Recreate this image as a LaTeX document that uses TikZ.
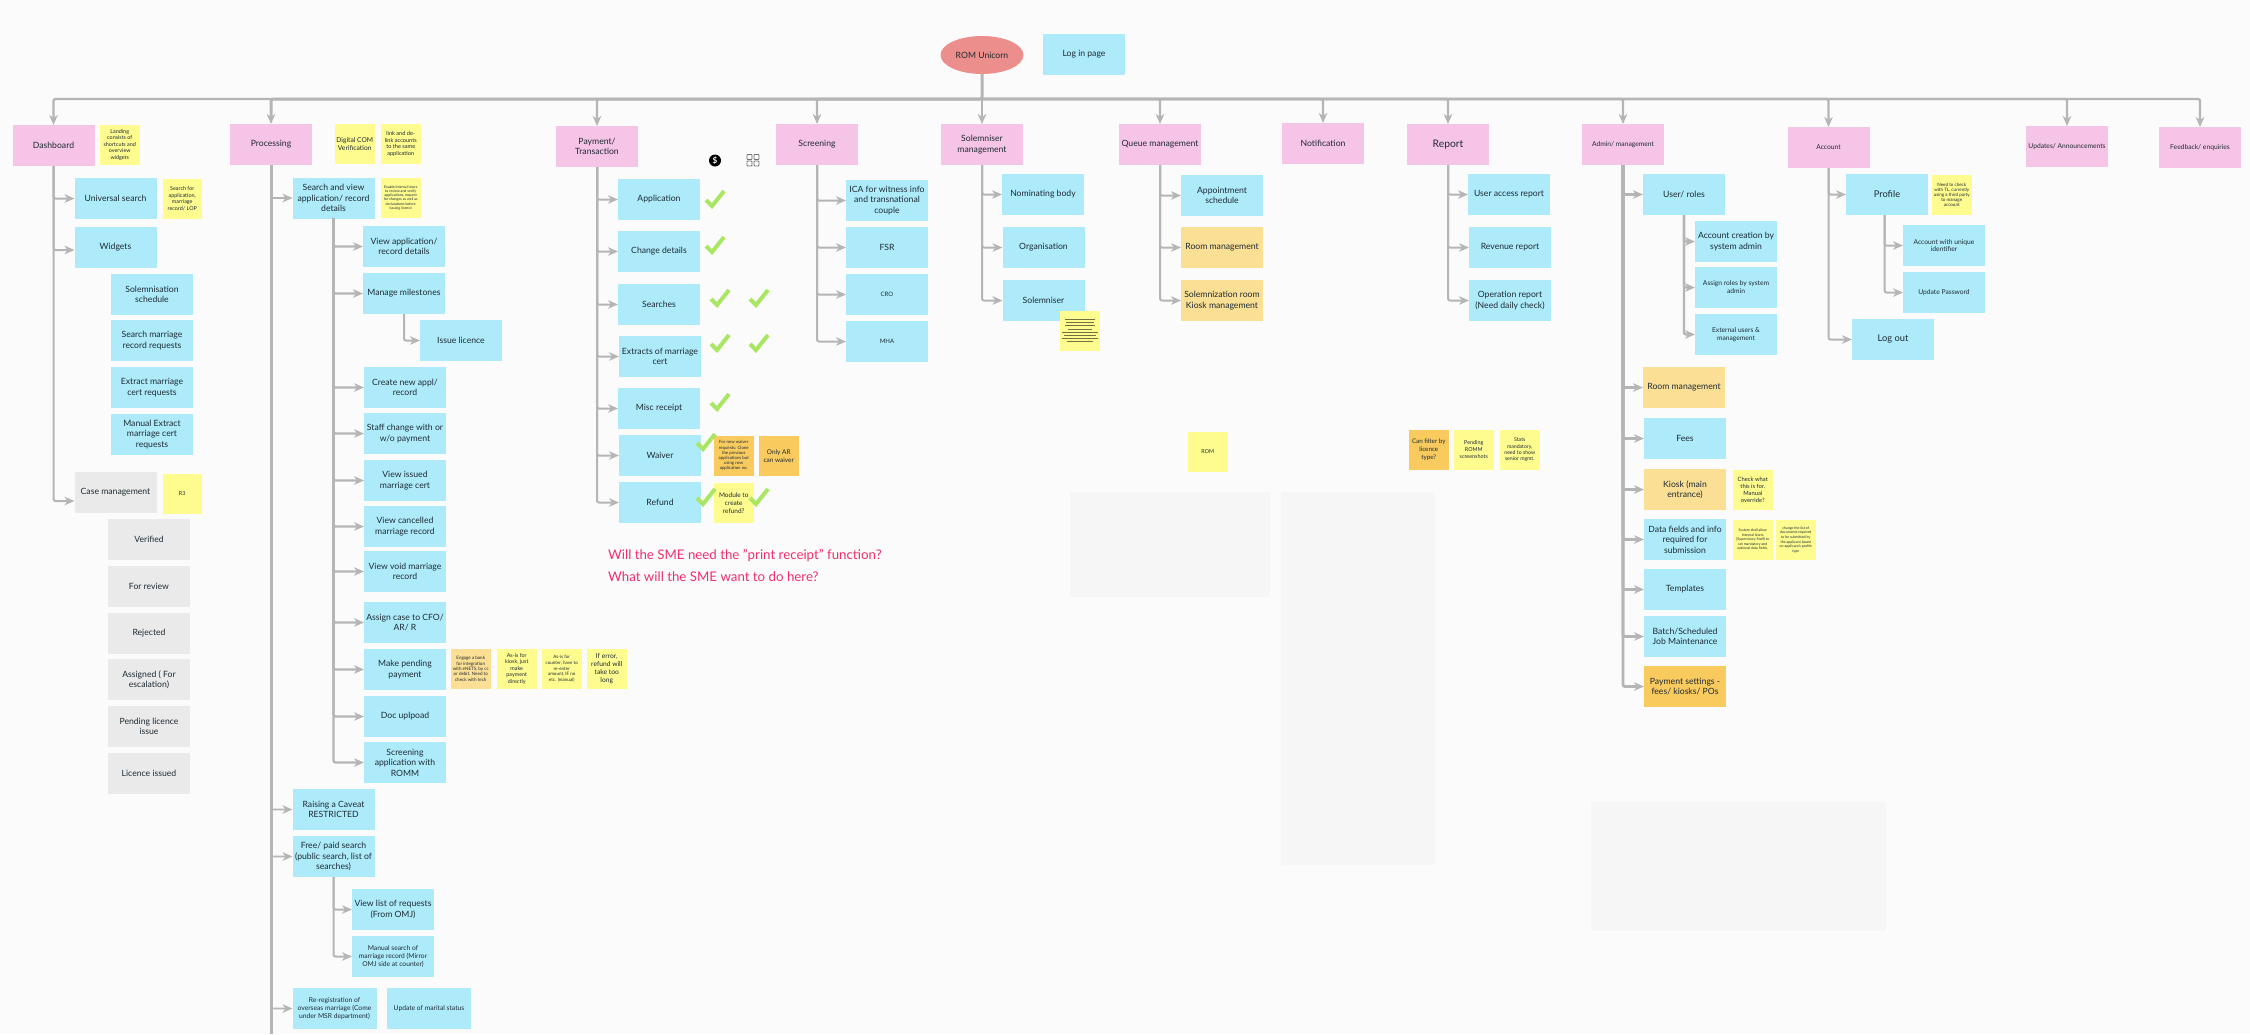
\documentclass[tikz,border=0pt]{standalone}
\usepackage{fontspec}
\setmainfont{Lato}
\usetikzlibrary{arrows.meta,shapes.geometric}
\definecolor{pagebg}{HTML}{FBFBFB}
\definecolor{pinkc}{HTML}{F6C4E6}
\definecolor{bluec}{HTML}{ADEBFB}
\definecolor{grayc}{HTML}{EAEAEA}
\definecolor{yellowc}{HTML}{FFFC8F}
\definecolor{lorangec}{HTML}{FBDF95}
\definecolor{dorangec}{HTML}{F9CB5E}
\definecolor{rootc}{HTML}{EC8E8C}
\definecolor{linec}{HTML}{B5B5B5}
\definecolor{tickc}{HTML}{A9E662}
\definecolor{redc}{HTML}{EF2F6C}
\definecolor{inkc}{HTML}{1E2B33}
\definecolor{panelc}{HTML}{F6F6F6}
\newcommand{\fs}[2]{\fontsize{\fpeval{#1*1.08}}{#2}\selectfont}
\newcommand{\bx}[6][]{\node[#2,anchor=north west,#1] (#3) at (#4,#5) {#6};}
\newcommand{\tk}[2]{\draw[tickmark] (#1-9,#2+1) -- (#1-3,#2+7) -- (#1+9,#2-8);}
\newcommand{\kid}[3][]{\draw[conn,#1] (#2.south) |- (#3.west);}
\tikzset{
  base/.style={rectangle,inner sep=0pt,outer sep=0pt,align=center,text=inkc,font=\fs{8}{10.4}},
  pinkbox/.style={base,fill=pinkc,minimum width=82pt,minimum height=41pt},
  bluebox/.style={base,fill=bluec,minimum width=82pt,minimum height=41pt},
  graybox/.style={base,fill=grayc,minimum width=82pt,minimum height=41pt},
  lorangebox/.style={base,fill=lorangec,minimum width=82pt,minimum height=41pt},
  dorangebox/.style={base,fill=dorangec,minimum width=82pt,minimum height=41pt},
  note/.style={base,fill=yellowc,minimum width=39.5pt,minimum height=39.5pt,font=\fs{5}{6.5}},
  conn/.style={draw=linec,line width=2pt,rounded corners=2pt,-{Stealth[length=10pt,width=8.5pt,inset=3pt]}},
  heavy/.style={line width=3pt},
  tickmark/.style={draw=tickc,line width=4pt},
  redtext/.style={text=redc,font=\fs{12.3}{16},anchor=west,inner sep=0pt},
  panel/.style={fill=panelc,draw=none},
  notelines/.style={draw=black!55!yellowc,line width=1pt}
}
\begin{document}
\begin{tikzpicture}[x=1pt,y=-1pt]
\useasboundingbox (0,0) rectangle (2250,1034);
\fill[pagebg] (0,0) rectangle (2250,1034);
% faint panels
\fill[panel] (1070,492) rectangle (1270,597);
\fill[panel] (1281,492) rectangle (1435,865);
\fill[panel] (1591,802) rectangle (1886,931);
% root
\node[base,ellipse,fill=rootc,minimum width=83pt,minimum height=38pt] (root) at (982,55) {ROM Unicorn};
\bx{bluebox}{login}{1043}{34}{Log in page}
\coordinate (trunk) at (982,99);
\coordinate (pbot) at (271,1034);
% top-level
\bx{pinkbox}{dash}{12.5}{125}{Dashboard}
\bx{pinkbox}{proc}{230}{124}{Processing}
\bx{pinkbox}{pay}{556}{126}{Payment/\\Transaction}
\bx{pinkbox}{scr}{776}{124}{Screening}
\bx{pinkbox}{solm}{941}{124}{Solemniser\\management}
\bx{pinkbox}{queue}{1119}{124}{Queue management}
\bx{pinkbox}{notif}{1282}{123}{Notification}
\bx[font=\fs{9.6}{12}]{pinkbox}{report}{1407}{124}{Report}
\bx[font=\fs{6.2}{8}]{pinkbox}{admin}{1582}{124}{Admin/ management}
\bx[font=\fs{6.2}{8}]{pinkbox}{acct}{1787.5}{127}{Account}
\bx[font=\fs{6.2}{8}]{pinkbox}{upd}{2026}{126}{Updates/ Announcements}
\bx[font=\fs{6.2}{8}]{pinkbox}{feed}{2159}{127}{Feedback/ enquiries}
% dashboard
\bx{note}{nland}{100}{125}{Landing\\consists of\\shortcuts and\\overview\\widgets}
\bx{bluebox}{usearch}{74.5}{178}{Universal search}
\bx{note}{nsearch}{162.5}{179}{Search for\\application,\\marriage\\record/ LOP}
\bx{bluebox}{widgets}{74.5}{227}{Widgets}
\bx{bluebox}{wsol}{111}{274}{Solemnisation\\schedule}
\bx{bluebox}{wsea}{111}{320}{Search marriage\\record requests}
\bx{bluebox}{wext}{111}{367}{Extract marriage\\cert requests}
\bx{bluebox}{wman}{111}{414}{Manual Extract\\marriage cert\\requests}
\bx{graybox}{casem}{74.5}{472}{Case management}
\bx{note}{nrthree}{162.5}{474}{R3}
\bx{graybox}{cver}{108}{519}{Verified}
\bx{graybox}{crev}{108}{566}{For review}
\bx{graybox}{crej}{108}{613}{Rejected}
\bx{graybox}{cass}{108}{659}{Assigned ( For\\escalation)}
\bx{graybox}{cpen}{108}{706}{Pending licence\\issue}
\bx{graybox}{clic}{108}{753}{Licence issued}
% processing
\bx[font=\fs{6.2}{7.8}]{note}{ndig}{335}{124}{Digital COM\\Verification}
\bx[font=\fs{5.2}{6.6}]{note}{nlink}{381}{124}{link and de-\\link accounts\\to the same\\application}
\bx{bluebox}{sview}{292.5}{177.5}{Search and view\\application/ record\\details}
\bx[font=\fs{3.3}{4.2}]{note}{nenable}{381}{178}{Enable Internal Users\\to review and verify\\applications, request\\for changes as well as\\declarations before\\issuing licence}
\bx{bluebox}{vapp}{363}{226}{View application/\\record details}
\bx{bluebox}{mile}{363}{273}{Manage milestones}
\bx{bluebox}{issue}{420}{320}{Issue licence}
\bx{bluebox}{cnew}{364}{367}{Create new appl/\\record}
\bx{bluebox}{staff}{364}{413}{Staff change with or\\w/o payment}
\bx{bluebox}{vissued}{364}{460}{View issued\\marriage cert}
\bx{bluebox}{vcanc}{364}{506}{View cancelled\\marriage record}
\bx{bluebox}{vvoid}{364}{551}{View void marriage\\record}
\bx{bluebox}{assign}{364}{602}{Assign case to CFO/\\AR/ R}
\bx{bluebox}{mpay}{364}{649}{Make pending\\payment}
\bx{bluebox}{doc}{364}{696}{Doc uplpoad}
\bx{bluebox}{srom}{364}{742}{Screening\\application with\\ROMM}
\bx[fill=lorangec,font=\fs{4.2}{5.4}]{note}{neng}{451}{649}{Engage a bank\\for integration\\with eNETS, by cc\\or debit. Need to\\check with tech}
\bx[font=\fs{5}{6.6}]{note}{nkiosk}{497}{649}{As-is for\\kiosk, just\\make\\payment\\directly}
\bx[font=\fs{4.2}{5.6}]{note}{ncount}{542}{649}{As-is for\\counter, have to\\re-enter\\amount, IF no\\etc. (manual)}
\bx[font=\fs{6.2}{8}]{note}{nerr}{587}{649}{If error,\\refund will\\take too\\long}
\bx{bluebox}{cave}{292.5}{789}{Raising a Caveat\\RESTRICTED}
\bx{bluebox}{free}{292.5}{836}{Free/ paid search\\(public search, list of\\searches)}
\bx{bluebox}{vlist}{352}{889}{View list of requests\\(From OMJ)}
\bx[font=\fs{6.2}{8.2}]{bluebox}{msearch}{352}{936}{Manual search of\\marriage record (Mirror\\OMJ side at counter)}
\bx[font=\fs{6.2}{8.2},minimum width=84pt]{bluebox}{rereg}{292.5}{988}{Re-registration of\\overseas marriage (Come\\under MSR department)}
\bx[font=\fs{6.2}{8.2},minimum width=84pt]{bluebox}{umar}{387}{988}{Update of marital status}
% payment
\bx{bluebox}{papp}{618}{179}{Application}
\bx{bluebox}{pchg}{618}{231}{Change details}
\bx{bluebox}{psea}{618}{284}{Searches}
\bx{bluebox}{pext}{619}{336}{Extracts of marriage\\cert}
\bx{bluebox}{pmisc}{618}{388}{Misc receipt}
\bx{bluebox}{pwai}{619}{435}{Waiver}
\bx{bluebox}{pref}{619}{482}{Refund}
\bx[fill=dorangec,font=\fs{4}{5.2}]{note}{nnew}{714}{436}{For new waiver\\requests: Clone\\the previous\\applications but\\using new\\application no.}
\bx[fill=dorangec,font=\fs{6}{8}]{note}{nar}{759}{436}{Only AR\\can waiver}
\bx[font=\fs{6}{8}]{note}{nmod}{714}{483}{Module to\\create\\refund?}
\tk{715}{199}
\tk{715}{245}
\tk{720}{298}
\tk{759}{298}
\tk{720}{343}
\tk{759}{343}
\tk{720}{402}
\tk{706}{442}
\tk{706}{497}
\tk{759}{497}
% icons
\node[circle,fill=black,text=white,minimum size=12pt,inner sep=0pt,font=\bfseries\fs{7.5}{8}] (dollar) at (715,160.5) {\$};
\foreach \gx/\gy in {747/154.5,754/154.5,747/161,754/161}
  {\draw[black!55,line width=0.9pt,rounded corners=0.8pt] (\gx,\gy) rectangle ++(5,5);}
\node[redtext] (qa) at (608,556) {Will the SME need the "print receipt" function?};
\node[redtext] (qb) at (608,577) {What will the SME want to do here?};
% screening
\bx{bluebox}{sica}{846}{180}{ICA for witness info\\and transnational\\couple}
\bx{bluebox}{sfsr}{846}{227}{FSR}
\bx[font=\fs{5.6}{7}]{bluebox}{scro}{846}{274}{CRO}
\bx[font=\fs{5.6}{7}]{bluebox}{smha}{846}{321}{MHA}
% solemniser
\bx{bluebox}{snom}{1002}{174}{Nominating body}
\bx{bluebox}{sorg}{1002.5}{227}{Organisation}
\bx{bluebox}{ssol}{1002.5}{280}{Solemniser}
\bx{note}{nlines}{1060}{311}{}
\foreach \ya/\xa/\xb in {319.3/1065.3/1095,322.7/1066/1094,325.7/1065/1095,329/1068.3/1091.7,332.3/1062.3/1097.7,335.3/1064/1096,338.7/1062.3/1097.7,341.7/1067.3/1092.7}
  {\draw[notelines] (\xa,\ya) -- (\xb,\ya);}
% queue
\bx{bluebox}{qapp}{1181}{175}{Appointment\\schedule}
\bx{lorangebox}{qroom}{1181}{227}{Room management}
\bx{lorangebox}{qkio}{1181}{280}{Solemnization room\\Kiosk management}
\bx{note}{nrom}{1188}{432}{ROM}
% report
\bx{bluebox}{ruser}{1468}{174}{User access report}
\bx{bluebox}{rrev}{1469}{227}{Revenue report}
\bx{bluebox}{rop}{1469}{280}{Operation report\\(Need daily check)}
\bx[fill=dorangec,font=\fs{5.8}{8}]{note}{nfilter}{1409}{430}{Can filter by\\licence\\type?}
\bx[font=\fs{5}{7}]{note}{nromm}{1454}{430}{Pending\\ROMM\\screenshots}
\bx[font=\fs{4.8}{6.2}]{note}{nstats}{1500}{430}{Stats\\mandatory,\\need to show\\senior mgmt.}
% admin
\bx{bluebox}{auser}{1643}{174}{User/ roles}
\bx{bluebox}{acre}{1695}{221}{Account creation by\\system admin}
\bx[font=\fs{6.2}{8}]{bluebox}{arol}{1695}{267}{Assign roles by system\\admin}
\bx[font=\fs{6.2}{8}]{bluebox}{aext}{1695}{314}{External users \&\\management}
\bx{lorangebox}{aroom}{1643}{367}{Room management}
\bx{bluebox}{afee}{1644}{418}{Fees}
\bx{lorangebox}{akio}{1644}{469}{Kiosk (main\\entrance)}
\bx[font=\fs{5.4}{7}]{note}{ncheck}{1733}{470}{Check what\\this is for.\\Manual\\override?}
\bx{bluebox}{adat}{1644}{519}{Data fields and info\\required for\\submission}
\bx[font=\fs{3.3}{4.6}]{note}{nsys}{1733}{520}{System shall allow\\Internal Users\\(Supervisory Staff) to\\set mandatory and\\optional data fields.}
\bx[font=\fs{3.3}{4.6}]{note}{nchg}{1776}{520}{change the list of\\documents required\\to be submitted by\\the applicant based\\on applicant's profile\\type}
\bx{bluebox}{atem}{1644}{569}{Templates}
\bx{bluebox}{abat}{1644}{616}{Batch/Scheduled\\Job Maintenance}
\bx{dorangebox}{apay}{1644}{666}{Payment settings -\\fees/ kiosks/ POs}
% account
\bx[font=\fs{8.6}{11}]{bluebox}{prof}{1846}{174}{Profile}
\bx[font=\fs{4.2}{5.2}]{note}{nneed}{1932}{175}{Need to check\\with TL, currently\\using a third party\\to manage\\account}
\bx[font=\fs{6.2}{7.8}]{bluebox}{auni}{1903}{225}{Account with unique\\identifier}
\bx[font=\fs{6.2}{7.8}]{bluebox}{apwd}{1903}{272}{Update Password}
\bx[font=\fs{8.6}{11}]{bluebox}{logo}{1852}{319}{Log out}
% trunk connectors
\draw[conn,heavy] (root.south) -- (trunk) -| (proc.north);
\draw[conn,line width=2.4pt] (trunk) -| (dash.north);
\draw[conn,line width=2.4pt] (trunk) -| (pay.north);
\draw[conn,line width=2.4pt] (trunk) -| (scr.north);
\draw[conn] (root.south) -- (solm.north);
\draw[conn,line width=2.4pt] (trunk) -| (queue.north);
\draw[conn,line width=2.4pt] (trunk) -| (notif.north);
\draw[conn,line width=2.4pt] (trunk) -| (report.north);
\draw[conn,line width=2.4pt] (trunk) -| (admin.north);
\draw[conn,line width=2.4pt] (trunk) -| (acct.north);
\draw[conn,line width=2.4pt] (trunk) -| (upd.north);
\draw[conn,line width=2.4pt] (trunk) -| (feed.north);
% dashboard
\kid{dash}{usearch}
\draw[conn] (dash.south) |- ([yshift=-2.5pt]widgets.west);
\draw[conn] (dash.south) |- ([yshift=-8.5pt]casem.west);
% processing
\draw[draw=linec,line width=3pt] (proc.south) -- (pbot);
\kid[line width=1.8pt]{proc}{sview}
\kid[line width=1.8pt]{proc}{cave}
\kid[line width=1.8pt]{proc}{free}
\kid[line width=1.8pt]{proc}{rereg}
\foreach \c in {vapp,mile,cnew,staff,vissued,vcanc,vvoid,assign,mpay,doc,srom}
  {\kid[line width=2.2pt]{sview}{\c}}
\kid{mile}{issue}
\kid{free}{vlist}
\kid{free}{msearch}
% payment
\foreach \c in {papp,pchg,psea,pext,pmisc,pwai,pref} {\kid{pay}{\c}}
% screening
\foreach \c in {sica,sfsr,scro,smha} {\kid{scr}{\c}}
% solemniser
\foreach \c in {snom,sorg,ssol} {\kid{solm}{\c}}
% queue
\foreach \c in {qapp,qroom,qkio} {\kid{queue}{\c}}
% report
\foreach \c in {ruser,rrev,rop} {\kid{report}{\c}}
% admin
\foreach \c in {auser,aroom,afee,akio,adat,atem,abat,apay} {\kid[line width=2.8pt]{admin}{\c}}
\foreach \c in {acre,arol,aext} {\kid[line width=2.4pt]{auser}{\c}}
% account
\foreach \c in {prof,logo} {\kid{acct}{\c}}
\draw[conn] ([xshift=-2.5pt]prof.south) |- (auni.west);
\draw[conn] ([xshift=-2.5pt]prof.south) |- (apwd.west);
\end{tikzpicture}
\end{document}
